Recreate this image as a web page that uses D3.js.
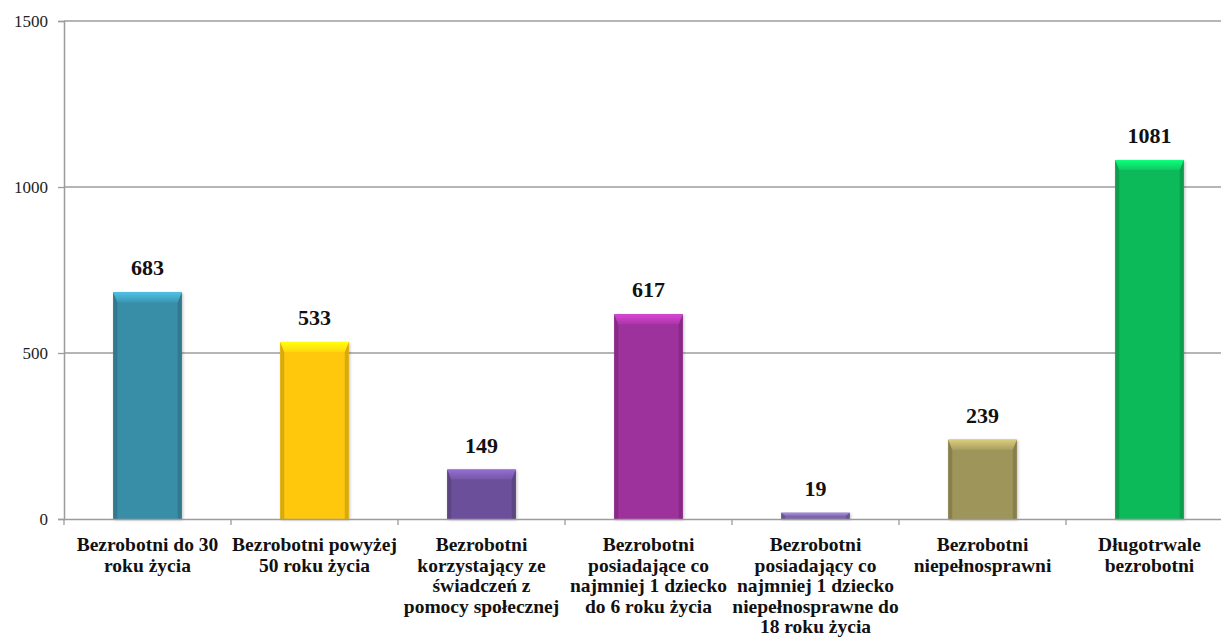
<!DOCTYPE html>
<html><head><meta charset="utf-8">
<script src="https://cdn.jsdelivr.net/npm/d3@7/dist/d3.min.js"></script>
<style>
html,body{margin:0;padding:0;background:#fff;overflow:hidden}
svg{display:block}
</style></head>
<body>
<svg id="chart" width="1221" height="643"></svg>
<script>
const categories = [
  "Bezrobotni do 30\nroku życia",
  "Bezrobotni powyżej\n50 roku życia",
  "Bezrobotni\nkorzystający ze\nświadczeń z\npomocy społecznej",
  "Bezrobotni\nposiadające co\nnajmniej 1 dziecko\ndo 6 roku życia",
  "Bezrobotni\nposiadający co\nnajmniej 1 dziecko\nniepełnosprawne do\n18 roku życia",
  "Bezrobotni\nniepełnosprawni",
  "Długotrwale\nbezrobotni"
];
const values = [683, 533, 149, 617, 19, 239, 1081];
const colors = ["#388DA7", "#FFC80A", "#6C509A", "#9E329C", "#7D66A8", "#9E955A", "#0CBA5A"];
const yTicks = [0, 500, 1000, 1500];

const svg = d3.select("#chart");
const margin = {left: 64, top: 21, bottom: 519, right: 1233};
const FONT = '"Liberation Serif"';

const x = d3.scaleBand().domain(d3.range(categories.length))
  .range([margin.left, margin.right]).paddingInner(0.59).paddingOuter(0.295);
const xb = d3.scaleBand().domain(d3.range(categories.length))
  .range([margin.left, margin.right]).padding(0);
const y = d3.scaleLinear().domain([0, 1500]).range([margin.bottom, margin.top]);

// gridlines
svg.append("g").selectAll("line").data(yTicks.filter(d => d > 0)).join("line")
  .attr("x1", margin.left).attr("x2", margin.right)
  .attr("y1", d => y(d)).attr("y2", d => y(d))
  .attr("stroke", "#9c9c9c").attr("stroke-width", 1.3);

// y axis
const yAxis = d3.axisLeft(y).tickValues(yTicks).tickSize(6).tickPadding(10).tickFormat(d3.format("d"));
const gy = svg.append("g").attr("transform", `translate(${margin.left},0)`).call(yAxis);
gy.attr("font-family", null);
gy.select(".domain").attr("stroke", "#9c9c9c").attr("stroke-width", 1.5);
gy.selectAll(".tick line").attr("stroke", "#9c9c9c").attr("stroke-width", 1.3);
gy.selectAll(".tick text").style("font-family", FONT).attr("font-size", 17).attr("fill", "#222");

// gradients
const defs = svg.append("defs");
colors.forEach((c, i) => {
  const g = defs.append("linearGradient").attr("id", "top" + i).attr("x1", "0").attr("x2", "0").attr("y1", "0").attr("y2", "1");
  g.append("stop").attr("offset", "0").attr("stop-color", d3.color(c).brighter(0.9));
  g.append("stop").attr("offset", "1").attr("stop-color", d3.color(c).brighter(0.2));
});
const shadow = defs.append("filter").attr("id", "sh").attr("x", "-20%").attr("y", "-20%").attr("width", "140%").attr("height", "140%");
shadow.append("feGaussianBlur").attr("in", "SourceAlpha").attr("stdDeviation", 1.5).attr("result", "b");
shadow.append("feOffset").attr("in", "b").attr("dx", 1).attr("dy", 1).attr("result", "o");
shadow.append("feComponentTransfer").attr("in", "o").attr("result", "o2")
  .append("feFuncA").attr("type", "linear").attr("slope", 0.25);
const fm = shadow.append("feMerge");
fm.append("feMergeNode").attr("in", "o2");
fm.append("feMergeNode").attr("in", "SourceGraphic");

// bars
const bars = svg.append("g").selectAll("g").data(values).join("g").attr("filter", "url(#sh)");
bars.append("rect")
  .attr("x", (d, i) => x(i)).attr("width", x.bandwidth())
  .attr("y", d => y(d)).attr("height", d => y(0) - y(d))
  .attr("fill", (d, i) => colors[i]);
// side bevels
bars.append("path")
  .attr("d", (d, i) => {
    const x0 = x(i), x1 = x(i) + x.bandwidth(), t = y(d), bt = y(0);
    const s = 4, h = Math.min(10, (bt - t) / 2);
    return `M${x0},${t}L${x0 + s},${t + h}L${x0 + s},${bt}L${x0},${bt}Z` +
           `M${x1},${t}L${x1 - s},${t + h}L${x1 - s},${bt}L${x1},${bt}Z`;
  })
  .attr("fill", (d, i) => d3.color(colors[i]).darker(0.45));
// top bevel
bars.append("path")
  .attr("d", (d, i) => {
    const x0 = x(i), x1 = x(i) + x.bandwidth(), t = y(d), bt = y(0);
    const s = 4, h = Math.min(10, (bt - t) / 2);
    return `M${x0},${t}L${x1},${t}L${x1 - s},${t + h}L${x0 + s},${t + h}Z`;
  })
  .attr("fill", (d, i) => `url(#top${i})`);

// value labels
svg.append("g").selectAll("text").data(values).join("text")
  .attr("x", (d, i) => x(i) + x.bandwidth() / 2)
  .attr("y", d => y(d) - 17)
  .attr("text-anchor", "middle")
  .style("font-family", FONT).attr("font-weight", "bold").attr("font-size", 22)
  .attr("fill", "#111").text(d => d);

// x axis
const xAxis = d3.axisBottom(xb).tickSize(0).tickFormat("");
const gx = svg.append("g").attr("transform", `translate(0,${margin.bottom})`).call(xAxis);
gx.select(".domain").attr("stroke", "#9c9c9c").attr("stroke-width", 1.5);
svg.append("g").selectAll("line").data(d3.range(categories.length + 1)).join("line")
  .attr("x1", i => margin.left + i * xb.step()).attr("x2", i => margin.left + i * xb.step())
  .attr("y1", margin.bottom).attr("y2", margin.bottom + 6)
  .attr("stroke", "#9c9c9c").attr("stroke-width", 1.3);

// category labels
const lab = svg.append("g").selectAll("text").data(categories).join("text")
  .attr("text-anchor", "middle")
  .style("font-family", FONT).attr("font-weight", "bold").attr("font-size", 19.5)
  .attr("fill", "#111");
lab.each(function(d, i) {
  const t = d3.select(this);
  d.split("\n").forEach((line, k) => {
    t.append("tspan").attr("x", xb(i) + xb.bandwidth() / 2).attr("y", margin.bottom + 32 + k * 20.5).text(line);
  });
});
</script>
</body></html>
